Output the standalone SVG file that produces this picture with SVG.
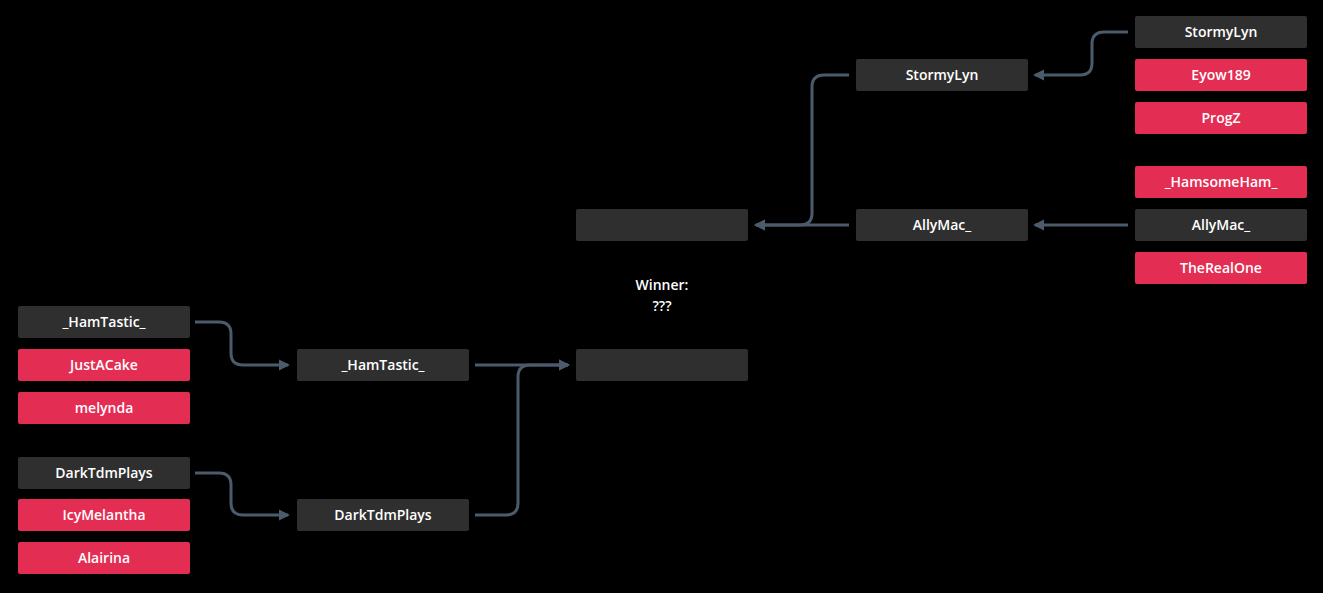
<svg xmlns="http://www.w3.org/2000/svg" width="1323" height="593" viewBox="0 0 1323 593">
<style>
.bg{fill:#000}
.n rect{fill:#2f2f2f}
.n.lose rect{fill:#e42d53}
.n text,.lbl{fill:#ffffff;font-family:"Open Sans","Liberation Sans",sans-serif;font-size:14px;font-weight:600;text-anchor:middle}
.c path{fill:none;stroke:#4b5b6b;stroke-width:3}
</style>
<defs>
<marker id="ah" markerUnits="userSpaceOnUse" markerWidth="12" markerHeight="12" viewBox="0 0 12 12" refX="9" refY="6" orient="auto">
<path d="M0,0.5 L11,6 L0,11.5 z" fill="#4b5b6b"/>
</marker>
</defs>
<rect class="bg" x="0" y="0" width="1323" height="593"/>
<g id="connectors" class="c">
<path d="M195,322 H219 Q231,322 231,334 V353 Q231,365 243,365 H288" marker-end="url(#ah)"/>
<path d="M195,473 H219 Q231,473 231,485 V503 Q231,515 243,515 H288" marker-end="url(#ah)"/>
<path d="M475,365 H568" marker-end="url(#ah)"/>
<path d="M475,515 H506 Q518,515 518,503 V377 Q518,365 530,365 H568" marker-end="url(#ah)"/>
<path d="M1128,32 H1104 Q1092,32 1092,44 V63 Q1092,75 1080,75 H1035" marker-end="url(#ah)"/>
<path d="M1128,225 H1035" marker-end="url(#ah)"/>
<path d="M849,75 H824 Q812,75 812,87 V213 Q812,225 800,225 H756" marker-end="url(#ah)"/>
<path d="M849,225 H756" marker-end="url(#ah)"/>
</g>
<g id="n-l1" class="n"><rect x="18" y="306" width="172" height="32" rx="2"/><text x="104" y="327">_HamTastic_</text></g>
<g id="n-l2" class="n lose"><rect x="18" y="349" width="172" height="32" rx="2"/><text x="104" y="370">JustACake</text></g>
<g id="n-l3" class="n lose"><rect x="18" y="392" width="172" height="32" rx="2"/><text x="104" y="413">melynda</text></g>
<g id="n-l4" class="n"><rect x="18" y="457" width="172" height="32" rx="2"/><text x="104" y="478">DarkTdmPlays</text></g>
<g id="n-l5" class="n lose"><rect x="18" y="499" width="172" height="32" rx="2"/><text x="104" y="520">IcyMelantha</text></g>
<g id="n-l6" class="n lose"><rect x="18" y="542" width="172" height="32" rx="2"/><text x="104" y="563">Alairina</text></g>
<g id="n-lr1" class="n"><rect x="297" y="349" width="172" height="32" rx="2"/><text x="383" y="370">_HamTastic_</text></g>
<g id="n-lr2" class="n"><rect x="297" y="499" width="172" height="32" rx="2"/><text x="383" y="520">DarkTdmPlays</text></g>
<g id="n-f1" class="n"><rect x="576" y="209" width="172" height="32" rx="2"/></g>
<g id="n-f2" class="n"><rect x="576" y="349" width="172" height="32" rx="2"/></g>
<g id="winner"><text class="lbl" x="662" y="290">Winner:</text><text class="lbl" x="662" y="311">???</text></g>
<g id="n-rr1" class="n"><rect x="856" y="59" width="172" height="32" rx="2"/><text x="942" y="80">StormyLyn</text></g>
<g id="n-rr2" class="n"><rect x="856" y="209" width="172" height="32" rx="2"/><text x="942" y="230">AllyMac_</text></g>
<g id="n-r1" class="n"><rect x="1135" y="16" width="172" height="32" rx="2"/><text x="1221" y="37">StormyLyn</text></g>
<g id="n-r2" class="n lose"><rect x="1135" y="59" width="172" height="32" rx="2"/><text x="1221" y="80">Eyow189</text></g>
<g id="n-r3" class="n lose"><rect x="1135" y="102" width="172" height="32" rx="2"/><text x="1221" y="123">ProgZ</text></g>
<g id="n-r4" class="n lose"><rect x="1135" y="166" width="172" height="32" rx="2"/><text x="1221" y="187">_HamsomeHam_</text></g>
<g id="n-r5" class="n"><rect x="1135" y="209" width="172" height="32" rx="2"/><text x="1221" y="230">AllyMac_</text></g>
<g id="n-r6" class="n lose"><rect x="1135" y="252" width="172" height="32" rx="2"/><text x="1221" y="273">TheRealOne</text></g>
</svg>
